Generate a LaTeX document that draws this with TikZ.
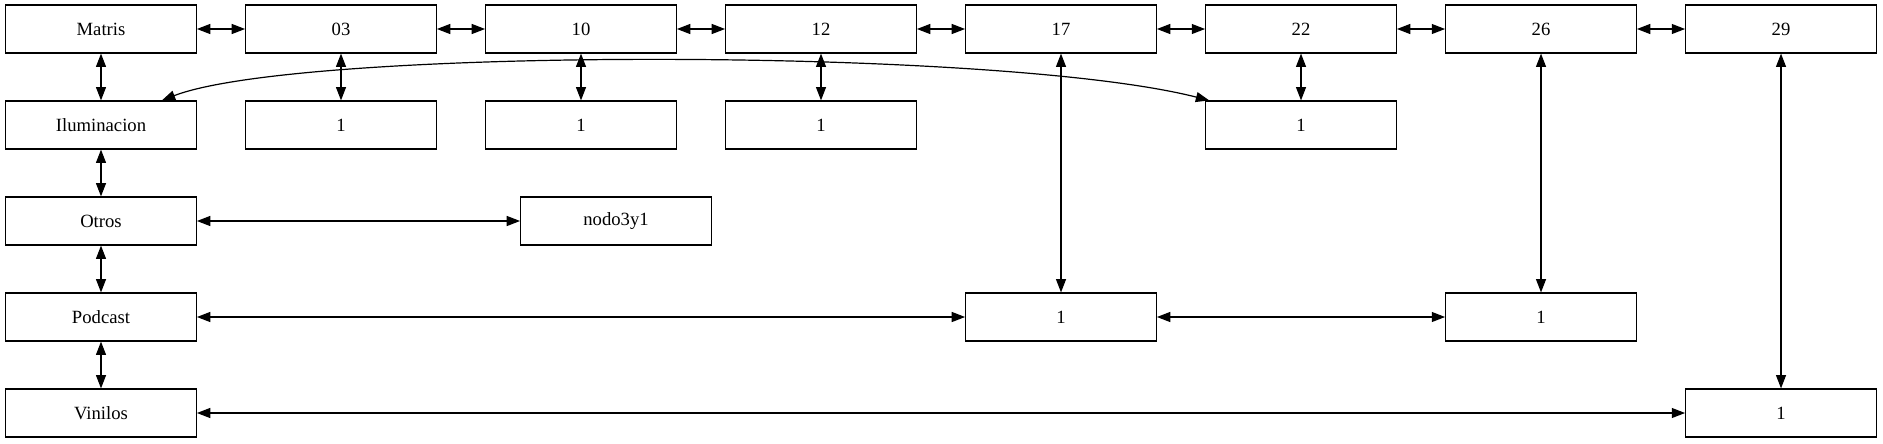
\documentclass[tikz,border=0pt]{standalone}
\usepackage{fontspec}
\setmainfont{Liberation Serif}
\usetikzlibrary{arrows.meta}

\begin{document}
\begin{tikzpicture}[x=0.75pt,y=-0.75pt,
                       box node/.style={rectangle,draw,line width=0.9pt,minimum width=143pt,minimum height=36pt,inner sep=0pt,font=\fontsize{14}{16}\selectfont},
                       link/.style={{Triangle[length=10pt,width=7.5pt]}-{Triangle[length=10pt,width=7.5pt]},line width=0.9pt}
                      ]
  \useasboundingbox (0,0) rectangle (1883,443);
  \node[box node] (mat) at (101,29) {Matris};
  \node[box node] (c03) at (341,29) {03};
  \node[box node] (c10) at (581,29) {10};
  \node[box node] (c12) at (821,29) {12};
  \node[box node] (c17) at (1061,29) {17};
  \node[box node] (c22) at (1301,29) {22};
  \node[box node] (c26) at (1541,29) {26};
  \node[box node] (c29) at (1781,29) {29};
  \node[box node] (ilu) at (101,125) {Iluminacion};
  \node[box node] (u03) at (341,125) {1};
  \node[box node] (u10) at (581,125) {1};
  \node[box node] (u12) at (821,125) {1};
  \node[box node] (u22) at (1301,125) {1};
  \node[box node] (otr) at (101,221) {Otros};
  \node[box node] (n3y1) at (616,221) {nodo3y1};
  \node[box node] (pod) at (101,317) {Podcast};
  \node[box node] (u17) at (1061,317) {1};
  \node[box node] (u26) at (1541,317) {1};
  \node[box node] (vin) at (101,413) {Vinilos};
  \node[box node] (u29) at (1781,413) {1};

  \path[link]%
   (mat) edge (c03)
   (c03) edge (c10)
   (c10) edge (c12)
   (c12) edge (c17)
   (c17) edge (c22)
   (c22) edge (c26)
   (c26) edge (c29)
   (mat) edge (ilu)
   (ilu) edge (otr)
   (otr) edge (pod)
   (pod) edge (vin)
   (c03) edge (u03)
   (c10) edge (u10)
   (c12) edge (u12)
   (c22) edge (u22)
   (otr) edge (n3y1)
   (c17) edge (u17)
   (pod) edge (u17)
   (u17) edge (u26)
   (c26) edge (u26)
   (c29) edge (u29)
   (vin) edge (u29);
  \draw[link] (ilu.22) .. controls (300,47) and (1000,47) .. (u22.165);
 \end{tikzpicture}
\end{document}
